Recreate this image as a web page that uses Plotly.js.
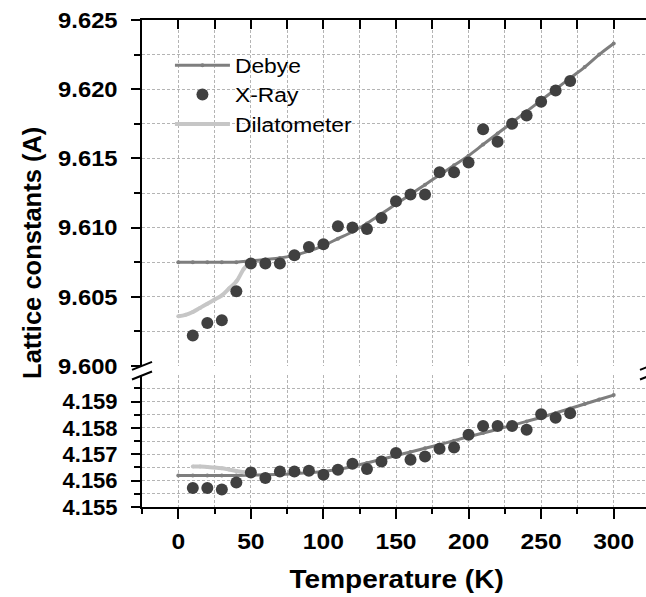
<!DOCTYPE html>
<html>
<head>
<meta charset="utf-8">
<script src="https://cdn.plot.ly/plotly-3.0.1.min.js"></script>
<style>
  html, body { margin: 0; padding: 0; background: #fff; overflow: hidden; }
  #chart { width: 654px; height: 597px; }
</style>
</head>
<body>
<div id="chart"></div>
<script>
// Temperature grid (K) of the Debye model curves
const debyeT = [0, 10, 20, 30, 40, 50, 60, 70, 80, 90, 100, 110, 120, 130, 140, 150,
                160, 170, 180, 190, 200, 210, 220, 230, 240, 250, 260, 270, 280, 290, 300];
// Debye model, a-axis (upper panel) and c-axis (lower panel), in Angstrom
const debyeA = [9.6075, 9.6075, 9.6075, 9.6075, 9.6075, 9.6076, 9.6077, 9.6078, 9.6080, 9.6083,
                9.6087, 9.6092, 9.6097, 9.6103, 9.6110, 9.6117, 9.6124, 9.6131, 9.6138, 9.6145,
                9.6152, 9.6160, 9.6168, 9.6176, 9.6184, 9.6192, 9.6200, 9.6208, 9.6216, 9.6225, 9.6233];
const debyeC = [4.15620, 4.15620, 4.15620, 4.15620, 4.15620, 4.15621, 4.15622, 4.15624, 4.15626, 4.15630,
                4.15635, 4.15643, 4.15654, 4.15667, 4.15681, 4.15695, 4.15709, 4.15723, 4.15737, 4.15752,
                4.15767, 4.15781, 4.15795, 4.15810, 4.15825, 4.15840, 4.15857, 4.15874, 4.15891, 4.15908, 4.15925];

// X-ray diffraction measurements
const xrayT = [10, 20, 30, 40, 50, 60, 70, 80, 90, 100, 110, 120, 130, 140, 150, 160, 170, 180,
               190, 200, 210, 220, 230, 240, 250, 260, 270];
const xrayA = [9.6022, 9.6031, 9.6033, 9.6054, 9.6074, 9.6074, 9.6074, 9.6080, 9.6086, 9.6088,
               9.6101, 9.6100, 9.6099, 9.6107, 9.6119, 9.6124, 9.6124, 9.6140, 9.6140, 9.6147,
               9.6171, 9.6162, 9.6175, 9.6181, 9.6191, 9.6199, 9.6206];
const xrayC = [4.15572, 4.15572, 4.15566, 4.15593, 4.15631, 4.15610, 4.15635, 4.15635, 4.15638, 4.15622,
               4.15641, 4.15664, 4.15644, 4.15673, 4.15705, 4.15679, 4.15692, 4.15721, 4.15726, 4.15774,
               4.15808, 4.15808, 4.15808, 4.15793, 4.15852, 4.15839, 4.15856];

// Dilatometer data (low-temperature range)
const dilTA = [0, 5, 10, 15, 20, 25, 30, 35, 40, 45, 50];
const dilA  = [9.6036, 9.6037, 9.6039, 9.6042, 9.6045, 9.6048, 9.6051, 9.6056, 9.6061, 9.6070, 9.6076];
const dilTC = [10, 15, 20, 25, 30, 35, 40, 45, 50];
const dilC  = [4.15654, 4.15654, 4.15652, 4.15650, 4.15647, 4.15642, 4.15637, 4.15632, 4.15627];

// Axis ticks
const xRange = [-25, 325];
const aRange = [9.600, 9.625];
const aTicks = [9.600, 9.605, 9.610, 9.615, 9.620, 9.625];
const aMinor = [9.6025, 9.6075, 9.6125, 9.6175, 9.6225];
const cRange = [4.155, 4.160];
const cTicks = [4.155, 4.156, 4.157, 4.158, 4.159];
const cMinor = [4.1555, 4.1565, 4.1575, 4.1585, 4.1595];

const FONT = 'Arial, "Liberation Sans", Helvetica, sans-serif';
const GRID = '#b4b4b4';
const DASH = '3px,2px';
const DEBYE_COLOR = '#7e7e7e';
const XRAY_COLOR = '#404040';
const DIL_COLOR = '#c6c6c6';

const tickFont = { family: FONT, size: 22, color: '#000', weight: 'bold' };

const traces = [
  // upper panel (a-axis)
  { x: debyeT, y: debyeA, xaxis: 'x2', yaxis: 'y', name: 'Debye', mode: 'lines+markers',
    line: { color: DEBYE_COLOR, width: 3, shape: 'spline' }, marker: { color: DEBYE_COLOR, size: 4 },
    legendgroup: 'g1', legendrank: 1 },
  { x: dilTA, y: dilA, xaxis: 'x2', yaxis: 'y', name: 'Dilatometer', mode: 'lines+markers',
    line: { color: DIL_COLOR, width: 4, shape: 'spline' }, marker: { color: DIL_COLOR, size: 4 },
    legendgroup: 'g3', legendrank: 3 },
  { x: xrayT, y: xrayA, xaxis: 'x2', yaxis: 'y', name: 'X-Ray', mode: 'markers',
    marker: { color: XRAY_COLOR, size: 12 }, legendgroup: 'g2', legendrank: 2 },
  // lower panel (c-axis)
  { x: debyeT, y: debyeC, xaxis: 'x', yaxis: 'y2', name: 'Debye', mode: 'lines+markers',
    line: { color: DEBYE_COLOR, width: 3, shape: 'spline' }, marker: { color: DEBYE_COLOR, size: 4 },
    legendgroup: 'g1', showlegend: false },
  { x: dilTC, y: dilC, xaxis: 'x', yaxis: 'y2', name: 'Dilatometer', mode: 'lines+markers',
    line: { color: DIL_COLOR, width: 4, shape: 'spline' }, marker: { color: DIL_COLOR, size: 4 },
    legendgroup: 'g3', showlegend: false },
  { x: xrayT, y: xrayC, xaxis: 'x', yaxis: 'y2', name: 'X-Ray', mode: 'markers',
    marker: { color: XRAY_COLOR, size: 12 }, legendgroup: 'g2', showlegend: false }
];

const gridMinor = (extra) => Object.assign({ showgrid: true, gridcolor: GRID, griddash: DASH, gridwidth: 1,
  tickcolor: '#000', tickwidth: 2 }, extra);

// vertical domains of the two panels
const topDom = [0.2895, 1];
const botDom = [0, 0.2704];

const axisLine = { showline: true, linecolor: '#000', linewidth: 2, zeroline: false };

// broken-axis marks, drawn in paper units around the gap between panels
function breakMarks(xp) {
  const W = 508, H = 487.3;
  const gapMid = (topDom[0] + botDom[1]) / 2;
  const dx = 10 / W, dy = 4 / H, off = 4.8 / H;
  const mk = (yc) => ({ type: 'line', xref: 'paper', yref: 'paper',
    x0: xp - dx, y0: yc - dy, x1: xp + dx, y1: yc + dy,
    line: { color: '#000', width: 2 } });
  return [mk(gapMid + off), mk(gapMid - off)];
}

const layout = {
  width: 654, height: 597,
  margin: { l: 142, r: 4, t: 20, b: 90 },
  paper_bgcolor: '#fff', plot_bgcolor: '#fff',
  showlegend: true,
  legend: { x: 0.055, y: 0.9465, xanchor: 'left', yanchor: 'top', bgcolor: 'rgba(0,0,0,0)',
            font: { family: FONT, size: 19.5, color: '#000' }, traceorder: 'grouped',
            tracegroupgap: 1, itemwidth: 55 },
  xaxis: Object.assign({ anchor: 'y2', domain: [0, 1], range: xRange, tick0: 0, dtick: 50,
    ticks: 'outside', ticklen: 10, tickwidth: 2, tickcolor: '#000', tickfont: tickFont,
    ticklabelstandoff: 4,
    showgrid: true, gridcolor: GRID, griddash: DASH, gridwidth: 1,
    minor: gridMinor({ tick0: 0, dtick: 25, ticks: 'outside', ticklen: 5 }) }, axisLine),
  xaxis2: Object.assign({ anchor: 'y', domain: [0, 1], matches: 'x', range: xRange, side: 'top',
    tick0: 0, dtick: 50, ticks: 'inside', ticklen: 9, tickwidth: 2, tickcolor: '#000',
    showticklabels: false, showgrid: true, gridcolor: GRID, griddash: DASH, gridwidth: 1,
    minor: gridMinor({ tick0: 0, dtick: 25, ticks: 'inside', ticklen: 9 }) }, axisLine),
  yaxis: Object.assign({ anchor: 'x2', domain: topDom, range: aRange, tickmode: 'array',
    tickvals: aTicks, tickformat: '.3f', ticks: 'outside', ticklen: 9, tickwidth: 2, tickcolor: '#000',
    tickfont: tickFont, ticklabelstandoff: 9,
    showgrid: true, gridcolor: GRID, griddash: DASH, gridwidth: 1,
    minor: gridMinor({ tickmode: 'array', tickvals: aMinor, ticks: 'outside', ticklen: 6 }) }, axisLine),
  yaxis2: Object.assign({ anchor: 'x', domain: botDom, range: cRange, tickmode: 'array',
    tickvals: cTicks, tickformat: '.3f', ticks: 'outside', ticklen: 9, tickwidth: 2, tickcolor: '#000',
    tickfont: tickFont, ticklabelstandoff: 9,
    showgrid: true, gridcolor: GRID, griddash: DASH, gridwidth: 1,
    minor: gridMinor({ tickmode: 'array', tickvals: cMinor, ticks: 'outside', ticklen: 6 }) }, axisLine),
  // right-hand frame with inward ticks
  yaxis3: Object.assign({ overlaying: 'y', anchor: 'x2', side: 'right', range: aRange, tickmode: 'array',
    tickvals: aTicks, ticks: 'inside', ticklen: 8, tickwidth: 2, tickcolor: '#000',
    showticklabels: false, showgrid: false }, axisLine),
  yaxis4: Object.assign({ overlaying: 'y2', anchor: 'x', side: 'right', range: cRange, tickmode: 'array',
    tickvals: cTicks, ticks: 'inside', ticklen: 8, tickwidth: 2, tickcolor: '#000',
    showticklabels: false, showgrid: false }, axisLine),
  shapes: breakMarks(0).concat(breakMarks(1)),
  annotations: [
    { text: 'Temperature (K)', xref: 'paper', yref: 'paper', x: 0.5, y: -0.147,
      xanchor: 'center', yanchor: 'middle', showarrow: false,
      font: { family: FONT, size: 25, color: '#000', weight: 'bold' } },
    { text: 'Lattice constants (A)', xref: 'paper', yref: 'paper', x: -0.2171, y: 0.5212,
      xanchor: 'center', yanchor: 'middle', showarrow: false, textangle: -90,
      font: { family: FONT, size: 25.5, color: '#000', weight: 'bold' } }
  ]
};

// horizontal lettering is set slightly wide
function widen(nodes, k) {
  nodes.forEach(t => {
    const L = t.getComputedTextLength();
    if (!L) return;
    t.setAttribute('textLength', (L * k).toFixed(2));
    t.setAttribute('lengthAdjust', 'spacingAndGlyphs');
  });
}
function widenText(gd) {
  widen(gd.querySelectorAll('.xtick text'), 1.12);
  widen(gd.querySelectorAll('.ytick text'), 1.08);
  widen(gd.querySelectorAll('.legendtext'), 1.17);
  widen([...gd.querySelectorAll('.annotation-text')].filter(t => t.textContent.indexOf('Temp') === 0), 1.12);
  // let the widened legend labels show in full
  gd.querySelectorAll('.legend .scrollbox').forEach(g => g.removeAttribute('clip-path'));
}

Plotly.newPlot('chart', traces, layout, { displayModeBar: false, staticPlot: true })
  .then(gd => widenText(gd));
</script>
</body>
</html>
